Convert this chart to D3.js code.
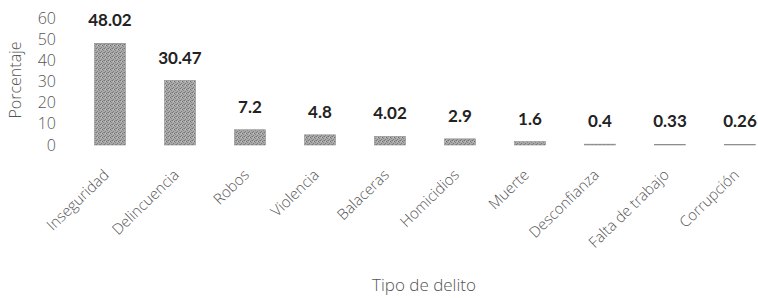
<!DOCTYPE html>
<html>
<head>
<meta charset="utf-8">
<script src="https://cdn.jsdelivr.net/npm/d3@7"></script>
<style>
  body { margin: 0; background: #fff; }
  text { font-family: "Open Sans", sans-serif; }
</style>
</head>
<body>
<div id="chart"></div>
<script>
// chart data
const CATEGORIES = ["Inseguridad", "Delincuencia", "Robos", "Violencia", "Balaceras",
                    "Homicidios", "Muerte", "Desconfianza", "Falta de trabajo", "Corrupción"];
const VALUES = [48.02, 30.47, 7.2, 4.8, 4.02, 2.9, 1.6, 0.4, 0.33, 0.26];
const VALUE_LABELS = ["48.02", "30.47", "7.2", "4.8", "4.02", "2.9", "1.6", "0.4", "0.33", "0.26"];
const Y_TICKS = [0, 10, 20, 30, 40, 50, 60];

const FRAME_WIDTH = 758;
const FRAME_HEIGHT = 298;

const FRAME = d3.select("#chart")
                .append("svg")
                  .attr("width", FRAME_WIDTH)
                  .attr("height", FRAME_HEIGHT);

// speckled grey fill like the printed bars
const defs = FRAME.append("defs");
const pat = defs.append("pattern")
                .attr("id", "speckle")
                .attr("width", 4)
                .attr("height", 4)
                .attr("patternUnits", "userSpaceOnUse");
pat.append("rect").attr("width", 4).attr("height", 4).attr("fill", "#aaa");
const DOTS = [[0, 0, "#737373"], [2, 1, "#6a6a6a"], [1, 3, "#7d7d7d"], [3, 2, "#888"], [1, 1, "#c4c4c4"], [3, 0, "#959595"]];
DOTS.forEach((p) => {
    pat.append("rect").attr("x", p[0]).attr("y", p[1]).attr("width", 1).attr("height", 1).attr("fill", p[2]);
});

// scales
const X_SCALE = d3.scaleBand()
                  .domain(CATEGORIES)
                  .range([75, 775])
                  .paddingInner(0.56)
                  .paddingOuter(0.28);

const Y_SCALE = d3.scaleLinear()
                  .domain([0, 60])
                  .range([145, 18]);

// bars
FRAME.selectAll(".bar")
     .data(CATEGORIES)
     .enter()
     .append("rect")
       .attr("class", "bar")
       .attr("x", (d) => X_SCALE(d))
       .attr("y", (d, i) => Y_SCALE(VALUES[i]))
       .attr("width", X_SCALE.bandwidth())
       .attr("height", (d, i) => Y_SCALE(0) - Y_SCALE(VALUES[i]))
       .attr("fill", "url(#speckle)")
       .attr("stroke", "#8a8a8a")
       .attr("stroke-width", 0.6);

// value labels
FRAME.selectAll(".val")
     .data(CATEGORIES)
     .enter()
     .append("text")
       .attr("x", (d) => X_SCALE(d) + X_SCALE.bandwidth() / 2)
       .attr("y", (d, i) => Y_SCALE(VALUES[i]) - 17)
       .attr("text-anchor", "middle")
       .style("font-family", "Lato, sans-serif")
       .style("font-size", "17px")
       .style("font-weight", "700")
       .attr("fill", "#222")
       .text((d, i) => VALUE_LABELS[i]);

// y axis, no line or ticks
const yAxis = FRAME.append("g")
                   .attr("transform", "translate(56,0)")
                   .call(d3.axisLeft(Y_SCALE).tickValues(Y_TICKS).tickSize(0).tickPadding(0));
yAxis.select(".domain").remove();
yAxis.selectAll("text")
     .style("font-family", "'Open Sans', sans-serif")
     .style("font-size", "16px")
     .style("font-weight", "300")
     .attr("fill", "#555");

// x axis labels, rotated
const xAxis = FRAME.append("g")
                   .attr("transform", "translate(0,145)")
                   .call(d3.axisBottom(X_SCALE).tickSize(0));
xAxis.select(".domain").remove();
xAxis.selectAll("text")
     .style("font-family", "'Open Sans', sans-serif")
     .style("font-size", "15px")
     .style("font-weight", "300")
     .attr("fill", "#555")
     .attr("text-anchor", "end")
     .attr("x", 0)
     .attr("y", 0)
     .attr("dy", "0")
     .attr("transform", "translate(0,31) rotate(-44)");

// axis titles
FRAME.append("text")
     .attr("transform", "translate(21,80) rotate(-90)")
     .attr("text-anchor", "middle")
     .style("font-size", "16px")
     .style("font-weight", "300")
     .attr("fill", "#555")
     .text("Porcentaje");

FRAME.append("text")
     .attr("x", 424)
     .attr("y", 291)
     .attr("text-anchor", "middle")
     .style("font-size", "17px")
     .style("font-weight", "300")
     .attr("fill", "#555")
     .text("Tipo de delito");
</script>
</body>
</html>
